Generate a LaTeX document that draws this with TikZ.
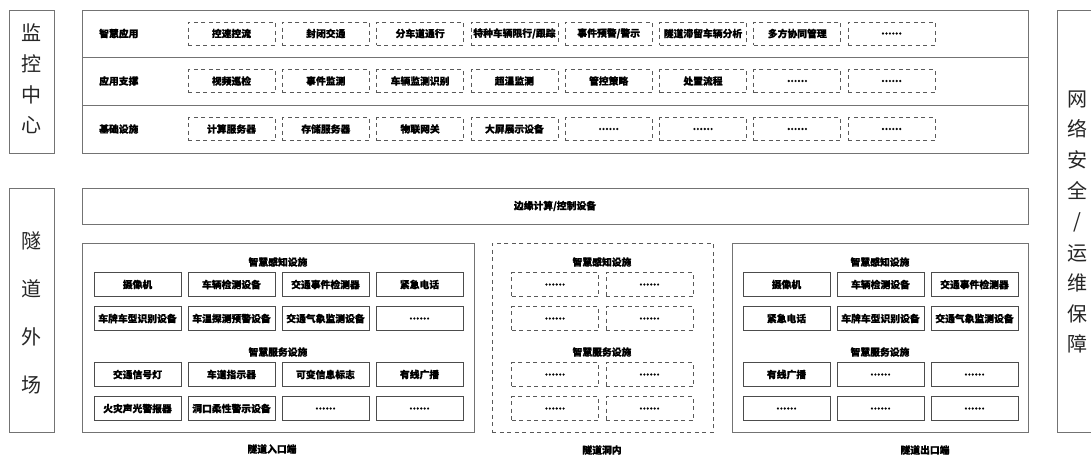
\documentclass[tikz,border=0pt]{standalone}
\usepackage{fontspec}
\newfontfamily\cjk{Noto Sans CJK SC}
\newfontfamily\cjkb[BoldFeatures={FakeBold=0.8}]{Noto Sans CJK SC}
\newcommand\mydots{......}
\begin{document}
\begin{tikzpicture}[x=1pt,y=-1pt,
  outer/.style={draw=black!55, line width=0.9pt, inner sep=0pt, anchor=north west},
  sep/.style={draw=black!55, line width=0.9pt},
  dbox/.style={draw=black!65, dash pattern=on 4pt off 3.5pt, line width=0.7pt, minimum width=87pt, minimum height=23pt, inner sep=0pt, font=\cjkb\bfseries\fontsize{9.8}{10}\selectfont},
  sbox/.style={draw=black!70, line width=0.8pt, minimum width=87pt, minimum height=24pt, inner sep=0pt, font=\cjkb\bfseries\fontsize{9.8}{10}\selectfont},
  ddbox/.style={dbox, minimum height=24pt},
  big/.style={font=\cjk\fontsize{20}{20}\selectfont, inner sep=0pt, text=black!85},
  lab/.style={font=\cjkb\bfseries\fontsize{9.8}{10}\selectfont, inner sep=0pt},
]
\useasboundingbox (0,0) rectangle (1091,459);
\fill[white] (0,0) rectangle (1091,459);

% ---------- left / right label boxes ----------
\node[outer, minimum width=45pt, minimum height=143pt] (mon) at (9,10) {};
\foreach \ch/\yy [count=\i] in {监/33,控/64,中/95,心/125}
  \node[big] (mon\i) at (31.5,\yy) {\ch};

\node[outer, minimum width=45pt, minimum height=244pt] (out) at (9,188) {};
\foreach \ch/\yy [count=\i] in {隧/241,道/289,外/337,场/385}
  \node[big] (out\i) at (31.5,\yy) {\ch};

\node[outer, minimum width=50pt, minimum height=422pt] (net) at (1057,10) {};
\foreach \ch/\yy [count=\i] in {网/99,络/129,安/160,全/191,运/253,维/283,保/314,障/344}
  \node[big] (net\i) at (1077,\yy) {\ch};
\node[big] (netslash) at (1077,222) {/};

% ---------- monitoring center ----------
\node[outer, minimum width=946pt, minimum height=143pt] (top) at (82,10) {};
\draw[sep] (82,57) -- (1028,57);
\draw[sep] (82,105) -- (1028,105);
\node[lab, anchor=west] (r1) at (99,33.5) {智慧应用};
\node[lab, anchor=west] (r2) at (99,81) {应用支撑};
\node[lab, anchor=west] (r3) at (99,129) {基础设施};

\foreach \t [count=\i from 0] in {控速控流,封闭交通,分车道通行,特种车辆限行/跟踪,事件预警/警示,隧道滞留车辆分析,多方协同管理,\mydots}
  \node[dbox] (a\i) at (231.5+\i*94.3,33.5) {\t};
\foreach \t [count=\i from 0] in {视频巡检,事件监测,车辆监测识别,超温监测,管控策略,处置流程,\mydots,\mydots}
  \node[dbox] (b\i) at (231.5+\i*94.3,81) {\t};
\foreach \t [count=\i from 0] in {计算服务器,存储服务器,物联网关,大屏展示设备,\mydots,\mydots,\mydots,\mydots}
  \node[dbox] (c\i) at (231.5+\i*94.3,129) {\t};

% ---------- edge computing ----------
\node[outer, minimum width=946pt, minimum height=36pt] (edge) at (82,188) {};
\node[lab] (edget) at (555,206) {边缘计算/控制设备};

% ---------- tunnel entrance ----------
\node[outer, minimum width=392pt, minimum height=189pt] (ent) at (82,243) {};
\node[lab] (ents) at (278,262) {智慧感知设施};
\node[lab] (entf) at (278,352) {智慧服务设施};
\foreach \t [count=\i from 0] in {摄像机,车辆检测设备,交通事件检测器,紧急电话}
  \node[sbox] (e1\i) at (137.5+\i*94,284.5) {\t};
\foreach \t [count=\i from 0] in {车牌车型识别设备,车温探测预警设备,交通气象监测设备,\mydots}
  \node[sbox] (e2\i) at (137.5+\i*94,318.5) {\t};
\foreach \t [count=\i from 0] in {交通信号灯,车道指示器,可变信息标志,有线广播}
  \node[sbox] (e3\i) at (137.5+\i*94,374.5) {\t};
\foreach \t [count=\i from 0] in {火灾声光警报器,洞口柔性警示设备,\mydots,\mydots}
  \node[sbox] (e4\i) at (137.5+\i*94,408.5) {\t};
\node[lab] (entl) at (272,449) {隧道入口端};

% ---------- tunnel inside ----------
\node[outer, draw=black!65, dash pattern=on 4pt off 3.5pt, line width=0.7pt, minimum width=221pt, minimum height=189pt] (mid) at (492,243) {};
\node[lab] (mids) at (602,262) {智慧感知设施};
\node[lab] (midf) at (602,352) {智慧服务设施};
\foreach \yy [count=\r] in {284.5,318.5,374.5,408.5}{
  \node[ddbox] (m\r a) at (555,\yy) {\mydots};
  \node[ddbox] (m\r b) at (649.5,\yy) {\mydots};
}
\node[lab] (midl) at (602,450) {隧道洞内};

% ---------- tunnel exit ----------
\node[outer, minimum width=296pt, minimum height=189pt] (ext) at (732,243) {};
\node[lab] (exts) at (880,262) {智慧感知设施};
\node[lab] (extf) at (880,352) {智慧服务设施};
\foreach \t [count=\i from 0] in {摄像机,车辆检测设备,交通事件检测器}
  \node[sbox] (x1\i) at (786.5+\i*94,284.5) {\t};
\foreach \t [count=\i from 0] in {紧急电话,车牌车型识别设备,交通气象监测设备}
  \node[sbox] (x2\i) at (786.5+\i*94,318.5) {\t};
\foreach \t [count=\i from 0] in {有线广播,\mydots,\mydots}
  \node[sbox] (x3\i) at (786.5+\i*94,374.5) {\t};
\foreach \t [count=\i from 0] in {\mydots,\mydots,\mydots}
  \node[sbox] (x4\i) at (786.5+\i*94,408.5) {\t};
\node[lab] (extl) at (925,450) {隧道出口端};
\end{tikzpicture}
\end{document}
